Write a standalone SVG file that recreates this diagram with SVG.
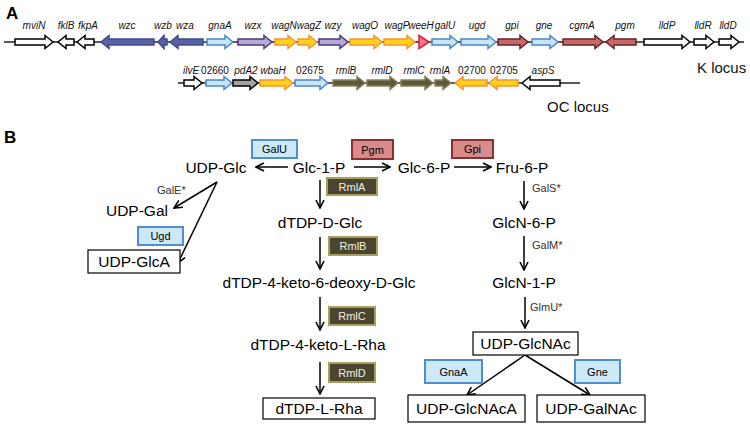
<svg xmlns="http://www.w3.org/2000/svg" width="750" height="424" viewBox="0 0 750 424">
<defs>
<style>
text{font-family:"Liberation Sans",Arial,sans-serif;}
.pl{font-weight:bold;font-size:17px;fill:#000;}
.gl{font-size:10px;font-style:italic;fill:#111;text-anchor:middle;}
.gn{font-size:10px;fill:#111;text-anchor:middle;}
.loc{font-size:15px;fill:#111;}
.bl{stroke:#000;stroke-width:1.2;}
.ln{stroke:#222;stroke-width:1.3;fill:none;}
.wht{fill:#fff;stroke:#000;stroke-width:1.5;}
.blu{fill:#5a62a6;stroke:#404c8a;stroke-width:1.5;}
.lbl{fill:#c8e4f6;stroke:#4a86c8;stroke-width:1.5;}
.lav{fill:#b6a9d2;stroke:#4b3b7c;stroke-width:1.5;}
.yel{fill:#ffd21a;stroke:#f59232;stroke-width:1.5;}
.red{fill:#f27b92;stroke:#e01c3a;stroke-width:1.5;}
.brn{fill:#c46a6a;stroke:#6a2222;stroke-width:1.5;}
.gry{fill:#a3a3a3;stroke:#000;stroke-width:1.5;}
.olv{fill:#5c583a;stroke:#86825c;stroke-width:1.5;}
.m{font-size:15.5px;fill:#000;text-anchor:middle;}
.s{font-size:11px;fill:#333;}
.et{font-size:11px;text-anchor:middle;}
.eb{fill:#cde9f7;stroke:#4f8fd0;stroke-width:2;}
.er{fill:#d88b8b;stroke:#8b3030;stroke-width:2;}
.eo{fill:#4b4530;stroke:#a89f5e;stroke-width:2;}
.nb{fill:#fff;stroke:#000;stroke-width:1.2;}
.ar{stroke:#000;stroke-width:1.5;fill:none;marker-end:url(#ah);}
</style>
<marker id="ah" markerUnits="userSpaceOnUse" viewBox="0 0 10 10" refX="9" refY="5" markerWidth="10" markerHeight="10" orient="auto">
<path d="M1,1 L9,5 L1,9" fill="none" stroke="#000" stroke-width="1.6"/>
</marker>
</defs>
<rect width="750" height="424" fill="#fff"/>

<text class="pl" x="6" y="19">A</text>
<text class="pl" x="4" y="143">B</text>

<g id="k-locus">
<line class="ln" x1="4" y1="42" x2="744" y2="42"/>
<g id="mviN"><polygon class="wht" points="15,39 45,39 45,35.5 53,42 45,48.5 45,45 15,45"/><text class="gl" x="34" y="29">mviN</text></g>
<g id="fklB"><polygon class="wht" points="58,42 66,35.5 66,39 74,39 74,45 66,45 66,48.5"/><text class="gl" x="66" y="29">fklB</text></g>
<g id="fkpA"><polygon class="wht" points="77,42 85,35.5 85,39 94,39 94,45 85,45 85,48.5"/><text class="gl" x="88" y="29">fkpA</text></g>
<g id="wzc"><polygon class="blu" points="101,42 109,35.5 109,39 154,39 154,45 109,45 109,48.5"/><text class="gl" x="127" y="29">wzc</text></g>
<g id="wzb"><polygon class="blu" points="158,42 164,35.5 164,39 167,39 167,45 164,45 164,48.5"/><text class="gl" x="163" y="29">wzb</text></g>
<g id="wza"><polygon class="blu" points="170,42 178,35.5 178,39 203,39 203,45 178,45 178,48.5"/><text class="gl" x="185" y="29">wza</text></g>
<g id="gnaA"><polygon class="lbl" points="207,39 225,39 225,35.5 233,42 225,48.5 225,45 207,45"/><text class="gl" x="220" y="29">gnaA</text></g>
<g id="wzx"><polygon class="lav" points="238,39 264,39 264,35.5 272,42 264,48.5 264,45 238,45"/><text class="gl" x="253" y="29">wzx</text></g>
<g id="wagN"><polygon class="yel" points="275,39 288,39 288,35.5 296,42 288,48.5 288,45 275,45"/><text class="gl" x="284" y="29">wagN</text></g>
<g id="wagZ"><polygon class="yel" points="298,39 309,39 309,35.5 317,42 309,48.5 309,45 298,45"/><text class="gl" x="309" y="29">wagZ</text></g>
<g id="wzy"><polygon class="lav" points="319,39 340,39 340,35.5 348,42 340,48.5 340,45 319,45"/><text class="gl" x="333" y="29">wzy</text></g>
<g id="wagO"><polygon class="yel" points="350,39 374,39 374,35.5 382,42 374,48.5 374,45 350,45"/><text class="gl" x="365" y="29">wagO</text></g>
<g id="wagP"><polygon class="yel" points="384,39 407,39 407,35.5 415,42 407,48.5 407,45 384,45"/><text class="gl" x="397" y="29">wagP</text></g>
<g id="weeH"><polygon class="red" points="419,35.5 429,42 419,48.5"/><text class="gl" x="421" y="29">weeH</text></g>
<g id="galU"><polygon class="lbl" points="432,39 450,39 450,35.5 458,42 450,48.5 450,45 432,45"/><text class="gl" x="445" y="29">galU</text></g>
<g id="ugd"><polygon class="lbl" points="461,39 488,39 488,35.5 496,42 488,48.5 488,45 461,45"/><text class="gl" x="477" y="29">ugd</text></g>
<g id="gpi"><polygon class="brn" points="498,39 520,39 520,35.5 528,42 520,48.5 520,45 498,45"/><text class="gl" x="512" y="29">gpi</text></g>
<g id="gne"><polygon class="lbl" points="532,39 550,39 550,35.5 558,42 550,48.5 550,45 532,45"/><text class="gl" x="544" y="29">gne</text></g>
<g id="cgmA"><polygon class="brn" points="563,39 595,39 595,35.5 603,42 595,48.5 595,45 563,45"/><text class="gl" x="582" y="29">cgmA</text></g>
<g id="pgm"><polygon class="brn" points="606,42 614,35.5 614,39 636,39 636,45 614,45 614,48.5"/><text class="gl" x="625" y="29">pgm</text></g>
<g id="lldP"><polygon class="wht" points="644,39 682,39 682,35.5 690,42 682,48.5 682,45 644,45"/><text class="gl" x="667" y="29">lldP</text></g>
<g id="lldR"><polygon class="wht" points="694,39 706,39 706,35.5 714,42 706,48.5 706,45 694,45"/><text class="gl" x="703" y="29">lldR</text></g>
<g id="lldD"><polygon class="wht" points="719,39 731,39 731,35.5 739,42 731,48.5 731,45 719,45"/><text class="gl" x="728" y="29">lldD</text></g>
<text class="loc" x="697" y="73">K locus</text>
</g>

<g id="oc-locus">
<line class="ln" x1="178" y1="83" x2="580" y2="83"/>
<g id="ilvE"><polygon class="wht" points="184,80 194,80 194,76.5 202,83 194,89.5 194,86 184,86"/><text class="gl" x="191" y="74">ilvE</text></g>
<g id="g02660"><polygon class="lbl" points="206,80 224,80 224,76.5 232,83 224,89.5 224,86 206,86"/><text class="gn" x="215" y="74">02660</text></g>
<g id="pdA2"><polygon class="gry" points="233,80 250,80 250,76.5 258,83 250,89.5 250,86 233,86"/><text class="gl" x="246" y="74">pdA2</text></g>
<g id="wbaH"><polygon class="yel" points="260,80 285,80 285,76.5 293,83 285,89.5 285,86 260,86"/><text class="gl" x="273" y="74">wbaH</text></g>
<g id="g02675"><polygon class="lbl" points="295,80 320,80 320,76.5 328,83 320,89.5 320,86 295,86"/><text class="gn" x="310" y="74">02675</text></g>
<g id="rmlB"><polygon class="olv" points="333,80 357,80 357,76.5 365,83 357,89.5 357,86 333,86"/><text class="gl" x="346" y="74">rmlB</text></g>
<g id="rmlD"><polygon class="olv" points="367,80 390,80 390,76.5 398,83 390,89.5 390,86 367,86"/><text class="gl" x="382" y="74">rmlD</text></g>
<g id="rmlC"><polygon class="olv" points="401,80 425,80 425,76.5 433,83 425,89.5 425,86 401,86"/><text class="gl" x="414" y="74">rmlC</text></g>
<g id="rmlA"><polygon class="olv" points="435,80 443,80 443,76.5 451,83 443,89.5 443,86 435,86"/><text class="gl" x="440" y="74">rmlA</text></g>
<g id="g02700"><polygon class="yel" points="455,83 463,76.5 463,80 487,80 487,86 463,86 463,89.5"/><text class="gn" x="472" y="74">02700</text></g>
<g id="g02705"><polygon class="yel" points="489,83 497,76.5 497,80 518,80 518,86 497,86 497,89.5"/><text class="gn" x="504" y="74">02705</text></g>
<g id="aspS"><polygon class="wht" points="522,83 530,76.5 530,80 560,80 560,86 530,86 530,89.5"/><text class="gl" x="543" y="74">aspS</text></g>
<text class="loc" x="547" y="112">OC locus</text>
</g>

<g id="connectors">
<line class="ar" x1="288" y1="167" x2="256" y2="167"/>
<line class="ar" x1="354" y1="167" x2="390" y2="167"/>
<line class="ar" x1="454" y1="167" x2="491" y2="167"/>
<line class="ar" x1="524" y1="181" x2="524" y2="209"/>
<line class="ar" x1="524" y1="236" x2="524" y2="270"/>
<line class="ar" x1="525" y1="297" x2="525" y2="328"/>
<line class="ar" x1="525" y1="355" x2="467" y2="395"/>
<line class="ar" x1="525" y1="355" x2="590" y2="395"/>
<line class="ar" x1="320" y1="180" x2="320" y2="208"/>
<line class="ar" x1="320" y1="237" x2="320" y2="269"/>
<line class="ar" x1="320" y1="297" x2="320" y2="330"/>
<line class="ar" x1="320" y1="362" x2="320" y2="394"/>
<line class="ar" x1="217" y1="182" x2="174" y2="208"/>
<line class="ar" x1="217" y1="182" x2="178" y2="263"/>
</g>

<g id="enzymes">
<g id="GalU"><rect class="eb" x="252" y="140" width="45" height="18"/><text class="et" x="274.5" y="153">GalU</text></g>
<g id="Pgm"><rect class="er" x="352" y="140" width="41" height="19"/><text class="et" x="372.5" y="153.5">Pgm</text></g>
<g id="Gpi"><rect class="er" x="452" y="140" width="41" height="18"/><text class="et" x="472.5" y="153">Gpi</text></g>
<g id="Ugd"><rect class="eb" x="138" y="227" width="45" height="18"/><text class="et" x="160.5" y="240">Ugd</text></g>
<g id="RmlA"><rect class="eo" x="327" y="178" width="50" height="17"/><text class="et" x="352" y="190.5" fill="#f2f0e0">RmlA</text></g>
<g id="RmlB"><rect class="eo" x="329" y="237" width="48" height="18"/><text class="et" x="353" y="250" fill="#f2f0e0">RmlB</text></g>
<g id="RmlC"><rect class="eo" x="329" y="307" width="46" height="18"/><text class="et" x="352" y="320" fill="#f2f0e0">RmlC</text></g>
<g id="RmlD"><rect class="eo" x="329" y="363" width="46" height="19"/><text class="et" x="352" y="376.5" fill="#f2f0e0">RmlD</text></g>
<g id="GnaA"><rect class="eb" x="425" y="360" width="57" height="23"/><text class="et" x="453.5" y="375.5">GnaA</text></g>
<g id="Gne"><rect class="eb" x="575" y="360" width="45" height="23"/><text class="et" x="597.5" y="375.5">Gne</text></g>
<text class="s" x="157" y="194">GalE*</text>
<text class="s" x="532" y="192">GalS*</text>
<text class="s" x="532" y="249">GalM*</text>
<text class="s" x="530" y="311">GlmU*</text>
</g>

<g id="metabolites">
<g id="UDP-Glc"><text class="m" x="216" y="173">UDP-Glc</text></g>
<g id="Glc-1-P"><text class="m" x="319" y="173">Glc-1-P</text></g>
<g id="Glc-6-P"><text class="m" x="424" y="173">Glc-6-P</text></g>
<g id="Fru-6-P"><text class="m" x="522" y="173">Fru-6-P</text></g>
<g id="UDP-Gal"><text class="m" x="137" y="216">UDP-Gal</text></g>
<g id="UDP-GlcA"><rect class="nb" x="88" y="250" width="92" height="23"/><text class="m" x="134" y="267">UDP-GlcA</text></g>
<g id="dTDP-D-Glc"><text class="m" x="320" y="228">dTDP-D-Glc</text></g>
<g id="dTDP-4-keto-6-deoxy-D-Glc"><text class="m" x="319" y="288">dTDP-4-keto-6-deoxy-D-Glc</text></g>
<g id="dTDP-4-keto-L-Rha"><text class="m" x="318" y="350">dTDP-4-keto-L-Rha</text></g>
<g id="dTDP-L-Rha"><rect class="nb" x="263" y="398" width="112" height="21"/><text class="m" x="319" y="414">dTDP-L-Rha</text></g>
<g id="GlcN-6-P"><text class="m" x="524" y="228">GlcN-6-P</text></g>
<g id="GlcN-1-P"><text class="m" x="524" y="288">GlcN-1-P</text></g>
<g id="UDP-GlcNAc"><rect class="nb" x="473" y="332" width="105" height="23"/><text class="m" x="525.5" y="349">UDP-GlcNAc</text></g>
<g id="UDP-GlcNAcA"><rect class="nb" x="408" y="395" width="117" height="27"/><text class="m" x="466.5" y="414">UDP-GlcNAcA</text></g>
<g id="UDP-GalNAc"><rect class="nb" x="537" y="395" width="108" height="27"/><text class="m" x="591" y="414">UDP-GalNAc</text></g>
</g>
</svg>
